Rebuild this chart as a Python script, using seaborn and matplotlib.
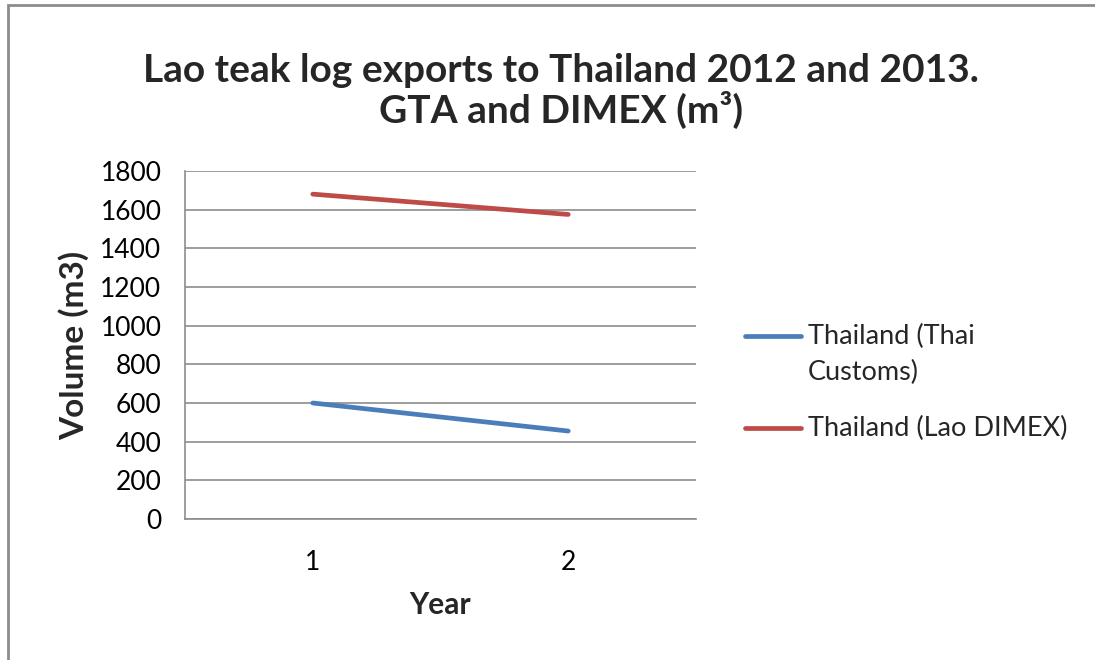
import matplotlib
matplotlib.use("Agg")
import matplotlib.pyplot as plt
import seaborn as sns
import pandas as pd
from matplotlib.patches import Rectangle
from matplotlib.lines import Line2D

# Chart data
years = [1, 2]
thai_customs = [600, 455]
lao_dimex = [1680, 1575]
series_names = ["Thailand (Thai\nCustoms)", "Thailand (Lao DIMEX)"]
series_colors = ["#4A7EBB", "#BE4B48"]
y_ticks = [0, 200, 400, 600, 800, 1000, 1200, 1400, 1600, 1800]

df = pd.DataFrame({
    "Year": years * 2,
    "Volume": thai_customs + lao_dimex,
    "Series": [series_names[0]] * len(years) + [series_names[1]] * len(years),
})

sns.set_theme(style="white")
plt.rcParams["font.family"] = ["Lato", "DejaVu Sans"]

fig = plt.figure(figsize=(10.95, 6.6), dpi=100)
ax = fig.add_axes([0.169, 0.2136, 0.4666, 0.5274])

line_w = 3.4
sns.lineplot(data=df, x="Year", y="Volume", hue="Series", hue_order=series_names,
             palette=series_colors, linewidth=line_w, ax=ax, legend=False,
             solid_capstyle="round")

grid_color = "#8C8C8C"
ax.set_ylim(0, 1800)
ax.set_yticks(y_ticks)
ax.set_yticklabels([str(v) for v in y_ticks])
ax.set_xlim(0.5, 2.5)
ax.set_xticks(years)
ax.set_xticklabels([str(v) for v in years])
ax.set_xticks([0.5, 1.5, 2.5], minor=True)
ax.tick_params(axis="x", which="major", length=0, labelsize=19, pad=22, colors="#000000")
ax.tick_params(axis="x", which="minor", length=8, width=1.2, color=grid_color, direction="out")
ax.tick_params(axis="y", which="major", length=8, width=1.2, direction="out",
               labelsize=19, pad=9, colors="#000000")
ax.tick_params(axis="y", which="major", color=grid_color)
ax.yaxis.grid(True, color=grid_color, linewidth=1.2)
ax.set_axisbelow(True)
for side in ["top", "right"]:
    ax.spines[side].set_visible(False)
for side in ["left", "bottom"]:
    ax.spines[side].set_color(grid_color)
    ax.spines[side].set_linewidth(1.2)

ax.set_xlabel("Year", fontsize=21.5, fontweight="bold", labelpad=12)
ax.set_ylabel("Volume (m3)", fontsize=24, fontweight="bold", labelpad=8)

fig.text(0.512, 0.8625, "Lao teak log exports to Thailand 2012 and 2013.\nGTA and DIMEX (m³)",
         ha="center", va="center", fontsize=28, fontweight="bold", linespacing=1.1)

# Legend: handle sits beside the first line of each entry
W, H = 1095, 660
legend_rows = [336, 428]
for color, label, y in zip(series_colors, series_names, legend_rows):
    fig.add_artist(Line2D([745 / W, 801 / W], [1 - y / H, 1 - y / H], color=color,
                          linewidth=line_w, solid_capstyle="round",
                          transform=fig.transFigure))
    fig.text(808 / W, 1 - (y - 12) / H, label, ha="left", va="top",
             fontsize=19.5, linespacing=1.55)

# Outer chart frame
fig.patches.append(Rectangle((8 / W, -0.1), 1.2, 0.1 + (H - 5) / H,
                             transform=fig.transFigure, fill=False,
                             edgecolor="#8C8C8C", linewidth=2.0))

fig.savefig("out.png", dpi=100)
